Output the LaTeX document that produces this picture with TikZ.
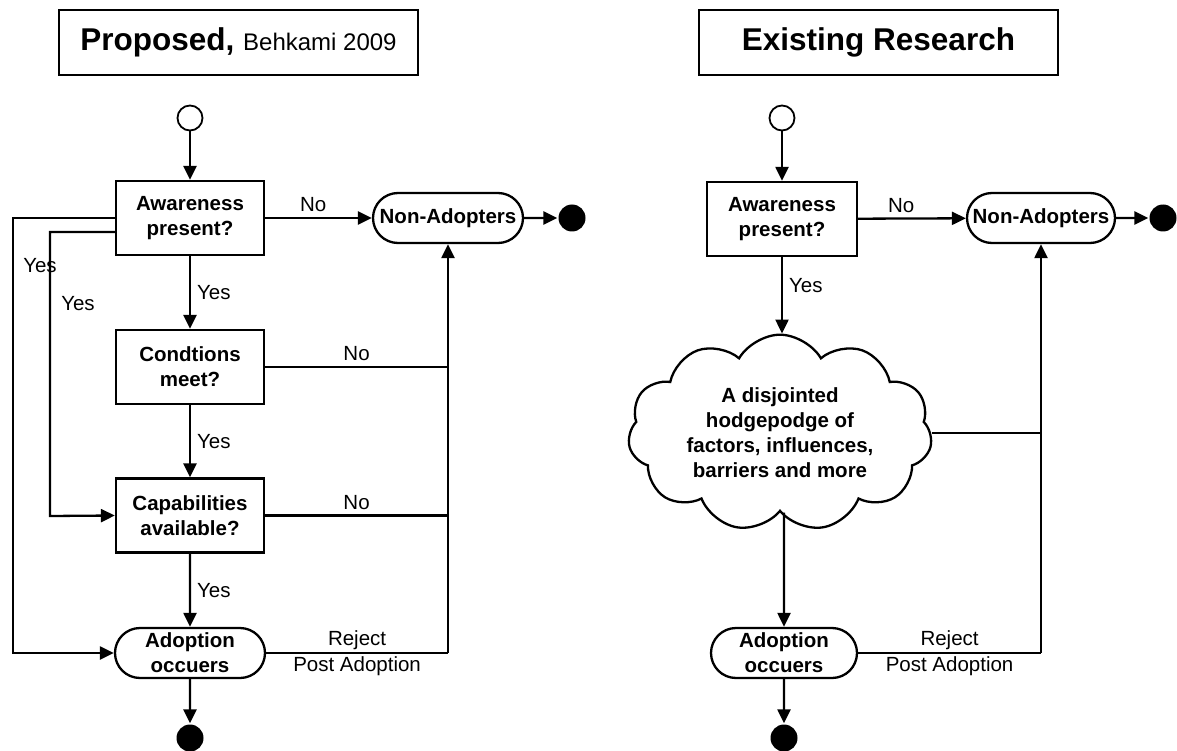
\documentclass[tikz,border=0pt]{standalone}
\usepackage{fontspec}
\setmainfont{Liberation Sans}
\usetikzlibrary{arrows.meta,shapes.misc,shapes.symbols,calc}

\begin{document}
\begin{tikzpicture}[x=1pt,y=-1pt,
  line width=2.3pt,
  every node/.style={font=\fontsize{20.5}{25}\selectfont},
  arr/.style={-{Triangle[length=14pt,width=13pt]}},
  title/.style={draw,line width=2.3pt,minimum width=359pt,minimum height=65pt,inner sep=0},
  qbox/.style={draw,align=center,font=\bfseries\fontsize{20.5}{25}\selectfont,
    minimum width=148pt,minimum height=74pt,inner sep=0},
  stad/.style={draw,rounded rectangle,align=center,font=\bfseries\fontsize{20.5}{25}\selectfont,
    minimum width=150pt,minimum height=50pt,inner sep=0},
  startdot/.style={circle,draw,line width=1.8pt,minimum size=25pt,inner sep=0},
  enddot/.style={circle,fill=black,minimum size=27pt,inner sep=0},
  lbl/.style={inner sep=0}
]
\useasboundingbox (0,0) rectangle (1177,751);

% ---------- left: proposed model ----------
\node[title] (t1) at (238.5,42.5)
  {\bfseries\fontsize{31.5}{36}\selectfont Proposed,\ \mdseries\fontsize{24}{28}\selectfont Behkami 2009};
\node[startdot] (s1) at (190,118) {};
\node[qbox] (aw1) at (190,218) {Awareness\\present?};
\node[qbox] (co1) at (190,367) {Condtions\\meet?};
\node[qbox] (ca1) at (190,515.5) {Capabilities\\available?};
\node[stad] (ad1) at (190,653) {Adoption\\occuers};
\node[enddot] (e1) at (190,738) {};
\node[stad] (na1) at (448,218) {Non-Adopters};
\node[enddot] (f1) at (572,218) {};
\coordinate (j1) at (448,653);

\draw[arr] (s1) -- (aw1);
\draw[arr] (aw1) -- node[lbl,right=6pt] {Yes} (co1);
\draw[arr] (co1) -- node[lbl,right=6pt] {Yes} (ca1);
\draw[arr] (ca1) -- node[lbl,right=6pt] {Yes} (ad1);
\draw[arr] (ad1) -- (e1);
\draw[arr] (aw1) -- node[lbl,above=5pt,pos=0.45] {No} (na1);
\draw[arr] (na1) -- (f1);
\draw (co1.east) -- node[lbl,above=5pt] {No} (co1.east -| j1);
\draw (ca1.east) -- node[lbl,above=5pt] {No} (ca1.east -| j1);
\draw (ad1.east) -- node[lbl,above=2pt] {Reject} node[lbl,below=2pt] {Post Adoption} (j1);
\draw[arr] (j1) -- (na1);
\draw[arr] (aw1.west) -- (13,218) -- (13,653) -- (ad1.west);
\draw[arr] ($(aw1.west)+(0,14)$) -- (50,232) -- (50,516) -- (ca1.west);
\node[lbl] at (40,266) {Yes};
\node[lbl] at (78,304) {Yes};

% ---------- right: existing research ----------
\node[title] (t2) at (878.5,42.5) {\bfseries\fontsize{31.5}{36}\selectfont Existing Research};
\node[startdot] (s2) at (782,118) {};
\node[qbox,minimum width=150pt] (aw2) at (782,219) {Awareness\\present?};
\node[cloud,draw,cloud puffs=11,cloud puff arc=120,aspect=1.65,
  minimum width=304pt,minimum height=184pt,inner sep=0,align=center,
  font=\bfseries\fontsize{20.5}{25}\selectfont] (cl) at (780,433)
  {A disjointed\\hodgepodge of\\factors, influences,\\barriers and more};
\node[stad,minimum width=146pt] (ad2) at (784,653) {Adoption\\occuers};
\node[enddot] (e2) at (784,738) {};
\node[stad,minimum width=148pt] (na2) at (1041,218) {Non-Adopters};
\node[enddot] (f2) at (1163,218) {};
\coordinate (j2) at (1041,653);

\draw[arr] (s2) -- (aw2);
\draw[arr] (aw2) -- node[lbl,right=6pt,pos=0.37] {Yes} (aw2.south |- cl.north);
\draw[arr] (aw2) -- node[lbl,above=5pt,pos=0.4] {No} (na2);
\draw[arr] (na2) -- (f2);
\draw (cl.east) -- (cl.east -| j2);
\draw[arr] (ad2.north |- cl.south) -- (ad2);
\draw[arr] (ad2) -- (e2);
\draw (ad2.east) -- node[lbl,above=2pt] {Reject} node[lbl,below=2pt] {Post Adoption} (j2);
\draw[arr] (j2) -- (na2);
\end{tikzpicture}
\end{document}
